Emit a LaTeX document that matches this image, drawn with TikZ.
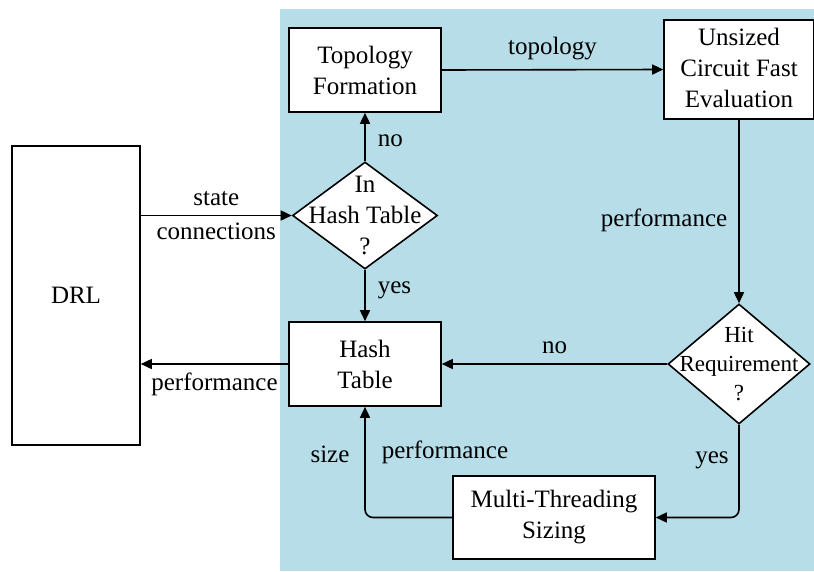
\documentclass[tikz,border=0pt]{standalone}
\usepackage{fontspec}
\setmainfont{Liberation Serif}
\usetikzlibrary{shapes.geometric,arrows.meta,calc}
\definecolor{bgblue}{RGB}{183,221,232}
\begin{document}
\begin{tikzpicture}[x=1pt,y=-1pt,
  txt/.style={font=\fontsize{25}{31}\selectfont,inner sep=0pt,align=center},
  box/.style={draw,line width=1.6pt,fill=white,rectangle,inner sep=0pt},
  dia/.style={draw,line width=1.6pt,fill=white,diamond,inner sep=0pt},
  arr/.style={line width=1.6pt,-{Triangle[length=11pt,width=10pt]}},
  lbl/.style={txt}]
\useasboundingbox (0,0) rectangle (814,571);
\fill[bgblue] (280,9) rectangle (814,571);
% boxes
\node[box,minimum width=128pt,minimum height=299pt] (drl) at (76,295.5) {};
\node[txt] (drlt) at (drl.center) {DRL};
\node[box,minimum width=152pt,minimum height=84pt] (topo) at (365,70) {};
\node[txt] (topot) at (topo.center) {Topology\\Formation};
\node[box,minimum width=150pt,minimum height=99pt] (uns) at (739,69.5) {};
\node[txt] (unst) at ($(uns.center)+(0,-2)$) {Unsized\\Circuit Fast\\Evaluation};
\node[box,minimum width=152pt,minimum height=84pt] (hash) at (365,364) {};
\node[txt] (hasht) at (hash.center) {Hash\\Table};
\node[box,minimum width=202pt,minimum height=83pt] (mts) at (554,517.5) {};
\node[txt] (mtst) at (mts.center) {Multi-Threading\\Sizing};
% diamonds
\node[dia,minimum width=145pt,minimum height=107pt] (inht) at (365,215.5) {};
\node[txt] (inhtt) at (inht.center) {In\\Hash Table\\?};
\node[dia,minimum width=142pt,minimum height=120pt] (hit) at (739,364) {};
\node[txt,font=\fontsize{23}{29}\selectfont] (hitt) at (hit.center) {Hit\\Requirement\\?};
% connectors
\draw[arr] (drl.east |- inht.west) -- node[lbl,above=9pt] (l1) {state} node[lbl,below=7pt] (l2) {connections} (inht.west);
\draw[arr] (inht.north) -- node[lbl,right=12pt,pos=0.42] (l3) {no} (topo.south);
\draw[arr] (inht.south) -- node[lbl,right=12pt,pos=0.4] (l4) {yes} (hash.north);
\draw[arr] (topo.east) -- node[lbl,above=9pt] (l5) {topology} (uns.west);
\draw[arr] (uns.south) -- node[lbl,left=11pt,pos=0.55] (l6) {performance} (hit.north);
\draw[arr] (hit.west) -- node[lbl,above=9pt] (l7) {no} (hash.east);
\draw[arr] (hash.west) -- node[lbl,below=8pt] (l8) {performance} (drl.east |- hash.west);
\draw[arr,rounded corners=8pt] (hit.south) |- (mts.east);
\node[lbl] (l9) at (712,460) {yes};
\draw[arr,rounded corners=8pt] (mts.west) -| (hash.south);
\node[lbl] (l10) at (330,454) {size};
\node[lbl] (l11) at (445,452) {performance};
\end{tikzpicture}
\end{document}
